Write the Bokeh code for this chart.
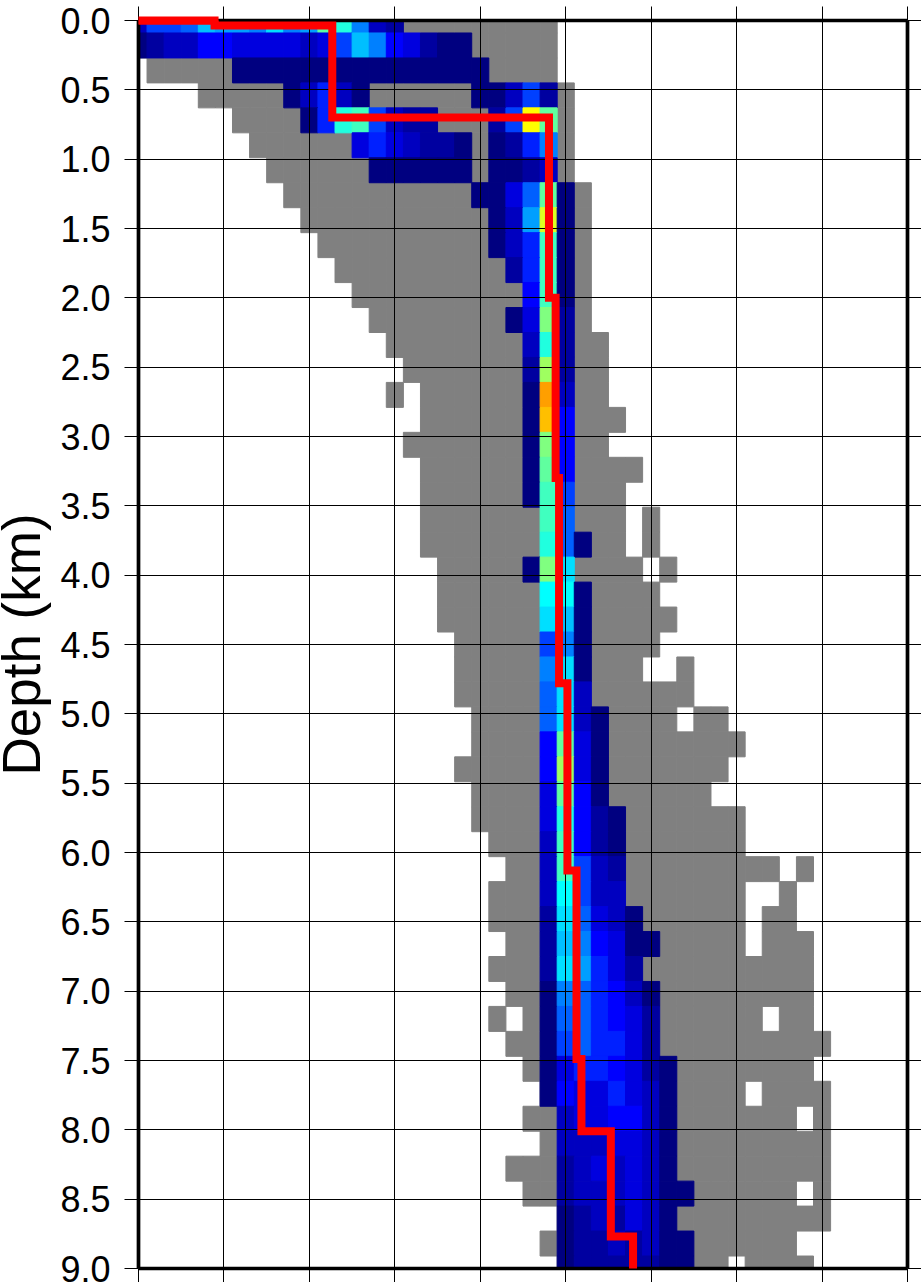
from bokeh.plotting import figure
from bokeh.models import ColumnDataSource, FixedTicker, LinearAxis, Range1d, BoxAnnotation, Grid
from bokeh.embed import file_html
from bokeh.resources import INLINE

DEPTH_TICKS = [i * 0.5 for i in range(19)]
X_TICKS = [i * 0.5 for i in range(10)]
COL_STEP = 0.1
ROW_STEP = 0.18

# cells with any sample: per depth row, (first column, last column) runs
GREY_RUNS = [
    [(0,24)],[(0,24)],[(1,24)],[(4,25)],[(6,25)],[(7,25)],[(8,25)],[(9,26)],[(10,26)],[(11,26)],
    [(12,26)],[(13,26)],[(14,26)],[(15,27)],[(16,27)],[(15,15),(17,27)],[(17,28)],[(16,27)],[(17,29)],[(17,28)],
    [(17,28),(30,30)],[(17,28),(30,30)],[(18,29),(31,31)],[(18,30)],[(18,31)],[(19,30)],[(19,29),(32,32)],[(19,32)],[(20,31),(33,34)],[(20,35)],
    [(19,34)],[(20,33)],[(20,35)],[(21,35)],[(22,37),(39,39)],[(21,35),(38,38)],[(21,35),(37,38)],[(22,35),(37,39)],[(21,39)],[(22,39)],
    [(21,21),(23,36),(38,39)],[(22,40)],[(23,39)],[(24,35),(37,40)],[(23,38),(40,40)],[(24,40)],[(22,40)],[(23,38),(40,40)],[(25,40)],[(24,38)],
    [(25,34),(36,39)],
]

# hit level per depth row: (first column, one letter per cell); a = lowest level, each letter = 1/32
HIT_RUNS = [
    [(0,"cgghkjjilijpnicb")],
    [(0,"abcceeddddcdgkiedbaa")],
    [(6,"aaaaaaaaaaaaaaa")],
    [(9,"acfca"),(20,"aacgb")],
    [(10,"afnogcbb"),(21,"bgup")],
    [(13,"dfdcbba"),(21,"abfi")],
    [(14,"aaaaaa"),(21,"aabc")],
    [(20,"aadhpa")],
    [(21,"acjta")],
    [(21,"acfoa")],
    [(22,"bfoa")],
    [(23,"eoa")],
    [(22,"adqb")],
    [(23,"cnb")],
    [(23,"brb")],
    [(23,"axc")],
    [(23,"awe")],
    [(23,"aqe")],
    [(23,"ape")],
    [(23,"aog")],
    [(24,"oh")],
    [(24,"nha")],
    [(23,"aql")],
    [(24,"mma")],
    [(24,"lka")],
    [(24,"gia")],
    [(24,"ila")],
    [(24,"hlc")],
    [(24,"hlca")],
    [(24,"epda")],
    [(24,"erda")],
    [(24,"dpea")],
    [(24,"dneba")],
    [(24,"coeba")],
    [(24,"cogcb")],
    [(24,"cmgcc")],
    [(24,"blhdca")],
    [(24,"bkiedaa")],
    [(24,"bljfdb")],
    [(24,"aihfeca")],
    [(24,"ahhfedb")],
    [(24,"aghffdb")],
    [(24,"adffedba")],
    [(24,"aeddfdca")],
    [(25,"cddeeca")],
    [(25,"cccddca")],
    [(25,"bcdcdca")],
    [(25,"bcccdcaa")],
    [(25,"abcbdca")],
    [(25,"abbcbcaa")],
    [(25,"abbbbbaa")],
]

# best-fit profile (step line)
LINE_X = [0.0, 0.445, 0.445, 1.134, 1.134, 2.402, 2.402, 2.441, 2.441, 2.461, 2.461, 2.51, 2.51, 2.563, 2.563, 2.592, 2.592, 2.764, 2.764, 2.894, 2.894]
LINE_DEPTH = [0.0, 0.0, 0.036, 0.036, 0.70, 0.70, 2.0, 2.0, 3.3, 3.3, 4.78, 4.78, 6.13, 6.13, 7.49, 7.49, 8.01, 8.01, 8.77, 8.77, 9.0]


def jet(v):
    stops = [(0.0, (0, 0, 128)), (0.125, (0, 0, 255)), (0.375, (0, 255, 255)),
             (0.625, (255, 255, 0)), (0.875, (255, 0, 0)), (1.0, (128, 0, 0))]
    for (a, ca), (b, cb) in zip(stops, stops[1:]):
        if v <= b:
            t = (v - a) / (b - a)
            return "#%02x%02x%02x" % tuple(min(255, round(p + (q - p) * t)) for p, q in zip(ca, cb))
    return "#800000"


gx, gy = [], []
for r, runs in enumerate(GREY_RUNS):
    for a, b in runs:
        for c in range(a, b + 1):
            gx.append(c * COL_STEP)
            gy.append(r * ROW_STEP)

hx, hy, hc = [], [], []
for r, runs in enumerate(HIT_RUNS):
    for start, letters in runs:
        for k, ch in enumerate(letters):
            hx.append((start + k) * COL_STEP)
            hy.append(r * ROW_STEP)
            hc.append(jet((ord(ch) - 97) / 32))

p = figure(width=926, height=1275, frame_width=769, frame_height=1248,
           x_range=Range1d(0, 4.5), y_range=Range1d(9, 0),
           output_backend="svg", toolbar_location=None,
           x_axis_location=None, y_axis_location=None,
           min_border_left=151, min_border_right=0, min_border_top=20, min_border_bottom=0,
           outline_line_color=None, background_fill_color="white", border_fill_color="white",
           styles={"margin-left": "-13px"})

p.rect(gx, gy, width=COL_STEP, height=ROW_STEP, fill_color="#808080", line_color="#808080", line_width=1)
p.rect(source=ColumnDataSource(dict(x=hx, y=hy, c=hc)), x="x", y="y", width=COL_STEP, height=ROW_STEP,
       fill_color="c", line_color="c", line_width=1)

p.line(LINE_X, LINE_DEPTH, line_color="#ff0000", line_width=8, line_join="miter", line_cap="butt", level="overlay")
half_x, half_d = 4 / 170.9, 4 / 138.67
p.add_layout(BoxAnnotation(left=LINE_X[0], right=LINE_X[1] + half_x,
                           top=LINE_DEPTH[0] - half_d, bottom=LINE_DEPTH[0] + half_d,
                           fill_color="#ff0000", fill_alpha=1, line_color=None, level="overlay"))


def style(ax, ticks):
    ax.ticker = FixedTicker(ticks=ticks)
    ax.axis_line_color = "black"
    ax.axis_line_width = 3.7
    ax.major_tick_line_color = "black"
    ax.major_tick_line_width = 1
    ax.major_tick_in = 0
    ax.major_tick_out = 14
    ax.minor_tick_line_color = None
    ax.major_label_overrides = {t: "" for t in ticks}
    ax.major_label_standoff = 0


left = LinearAxis()
style(left, DEPTH_TICKS)
left.major_label_overrides = {t: f"{t:.1f}" for t in DEPTH_TICKS}
left.major_label_text_font = "Liberation Sans"
left.major_label_text_font_size = "36px"
left.major_label_text_color = "black"
left.major_label_standoff = 14
left.axis_label = "Depth (km)"
left.axis_label_text_font = "Liberation Sans"
left.axis_label_text_font_style = "normal"
left.axis_label_text_font_size = "53px"
left.axis_label_text_color = "black"
left.axis_label_standoff = 6
p.add_layout(left, "left")

right = LinearAxis(); style(right, DEPTH_TICKS); p.add_layout(right, "right")
top = LinearAxis(); style(top, X_TICKS); p.add_layout(top, "above")
bottom = LinearAxis(); style(bottom, X_TICKS); p.add_layout(bottom, "below")

p.add_layout(Grid(dimension=0, ticker=FixedTicker(ticks=X_TICKS), grid_line_color="black", grid_line_width=1, level="guide"))
p.add_layout(Grid(dimension=1, ticker=FixedTicker(ticks=DEPTH_TICKS), grid_line_color="black", grid_line_width=1, level="guide"))

open("out.html", "w").write(file_html(p, INLINE))
